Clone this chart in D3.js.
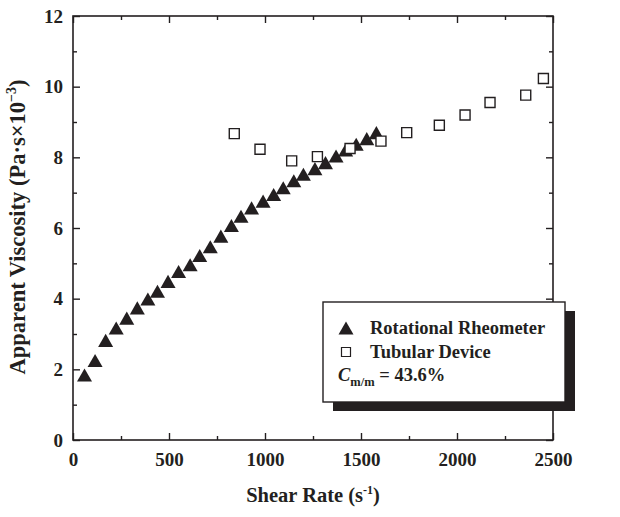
<!DOCTYPE html>
<html>
<head>
<meta charset="utf-8">
<script src="https://cdn.jsdelivr.net/npm/d3@7"></script>
<style>
  html, body { margin: 0; padding: 0; background: #fff; }
  svg { display: block; }
  text { font-family: "Liberation Serif", "Times New Roman", serif; font-weight: bold; fill: #231f20; }
</style>
</head>
<body>
<svg id="chart" width="620" height="517"></svg>
<script>
// ---- data ----
const rotShear = [60, 115, 170, 225, 280, 335, 390, 440, 495, 550, 610, 660, 715, 770, 825, 875, 930, 990, 1045, 1095, 1150, 1200, 1260, 1315, 1370, 1420, 1475, 1530, 1580];
const rotVisc  = [1.84, 2.25, 2.82, 3.17, 3.45, 3.74, 3.99, 4.21, 4.49, 4.77, 4.96, 5.22, 5.47, 5.77, 6.07, 6.33, 6.57, 6.76, 6.95, 7.14, 7.34, 7.52, 7.68, 7.85, 8.04, 8.21, 8.37, 8.53, 8.70];
const tubShear = [840, 974, 1139, 1273, 1443, 1604, 1738, 1908, 2042, 2172, 2358, 2450];
const tubVisc  = [8.67, 8.23, 7.90, 8.02, 8.25, 8.46, 8.70, 8.91, 9.20, 9.55, 9.76, 10.23];
const xMajor = [0, 500, 1000, 1500, 2000, 2500];
const xMinor = [250, 750, 1250, 1750, 2250];
const yMajor = [0, 2, 4, 6, 8, 10, 12];
const yMinor = [1, 3, 5, 7, 9, 11];

const ink = "#231f20";
const svg = d3.select("#chart");
const M = { left: 73, right: 553, top: 16, bottom: 440 };

const x = d3.scaleLinear().domain([0, 2500]).range([M.left, M.right]);
const y = d3.scaleLinear().domain([0, 12]).range([M.bottom, M.top]);

// frame
svg.append("rect")
  .attr("x", M.left).attr("y", M.top)
  .attr("width", M.right - M.left).attr("height", M.bottom - M.top)
  .attr("fill", "none").attr("stroke", ink).attr("stroke-width", 1.6);

function styleAxis(g) {
  g.select(".domain").remove();
  g.selectAll("line").attr("stroke", ink).attr("stroke-width", 1.4);
}
const fmt = d3.format("d");
// bottom
svg.append("g").attr("transform", `translate(0,${M.bottom})`)
  .call(d3.axisBottom(x).tickValues(xMajor).tickSize(-7).tickPadding(13).tickFormat(fmt))
  .call(styleAxis)
  .call(g => g.selectAll("text").attr("font-size", 19).attr("font-family", "Liberation Serif").attr("font-weight", "bold").attr("fill", ink).attr("dy", "0.71em"));
svg.append("g").attr("transform", `translate(0,${M.bottom})`)
  .call(d3.axisBottom(x).tickValues(xMinor).tickSize(-4).tickFormat(""))
  .call(styleAxis);
// top
svg.append("g").attr("transform", `translate(0,${M.top})`)
  .call(d3.axisTop(x).tickValues(xMajor).tickSize(-7).tickFormat(""))
  .call(styleAxis);
svg.append("g").attr("transform", `translate(0,${M.top})`)
  .call(d3.axisTop(x).tickValues(xMinor).tickSize(-4).tickFormat(""))
  .call(styleAxis);
// left
svg.append("g").attr("transform", `translate(${M.left},0)`)
  .call(d3.axisLeft(y).tickValues(yMajor).tickSize(-7).tickPadding(10).tickFormat(fmt))
  .call(styleAxis)
  .call(g => g.selectAll("text").attr("font-size", 19).attr("font-family", "Liberation Serif").attr("font-weight", "bold").attr("fill", ink));
svg.append("g").attr("transform", `translate(${M.left},0)`)
  .call(d3.axisLeft(y).tickValues(yMinor).tickSize(-4).tickFormat(""))
  .call(styleAxis);
// right
svg.append("g").attr("transform", `translate(${M.right},0)`)
  .call(d3.axisRight(y).tickValues(yMajor).tickSize(-7).tickFormat(""))
  .call(styleAxis);
svg.append("g").attr("transform", `translate(${M.right},0)`)
  .call(d3.axisRight(y).tickValues(yMinor).tickSize(-4).tickFormat(""))
  .call(styleAxis);

// axis titles
const xt = svg.append("text").attr("x", (M.left + M.right) / 2).attr("y", 502)
  .attr("text-anchor", "middle").attr("font-size", 20.5);
xt.append("tspan").text("Shear Rate (s");
xt.append("tspan").attr("font-size", 12).attr("dy", -8).text("-1");
xt.append("tspan").attr("dy", 8).text(")");

const yt = svg.append("text")
  .attr("transform", `translate(25,227) rotate(-90)`)
  .attr("text-anchor", "middle").attr("font-size", 22.5);
yt.append("tspan").text("Apparent Viscosity (Pa\u00b7s\u00d710");
yt.append("tspan").attr("font-size", 14).attr("dy", -9).text("\u22123");
yt.append("tspan").attr("dy", 9).text(")");

// symbols
const triType = {
  draw(ctx, size) {
    const w = Math.sqrt(size);
    const h = w * 0.87;
    ctx.moveTo(0, -h / 2);
    ctx.lineTo(w / 2, h / 2);
    ctx.lineTo(-w / 2, h / 2);
    ctx.closePath();
  }
};
const tri = d3.symbol().type(triType).size(15 * 15);
const sq = d3.symbol().type(d3.symbolSquare).size(10 * 10);

const rot = rotShear.map((s, i) => ({ s, v: rotVisc[i] }));
const tub = tubShear.map((s, i) => ({ s, v: tubVisc[i] }));

svg.append("g").selectAll("path").data(rot).join("path")
  .attr("d", tri)
  .attr("transform", d => `translate(${x(d.s)},${y(d.v)})`)
  .attr("fill", ink);

svg.append("g").selectAll("path").data(tub).join("path")
  .attr("d", sq)
  .attr("transform", d => `translate(${x(d.s)},${y(d.v)})`)
  .attr("fill", "#fff").attr("stroke", ink).attr("stroke-width", 1.4);

// legend
const L = { x: 323, y: 302, w: 242, h: 100 };
svg.append("rect").attr("x", L.x + 10).attr("y", L.y + 9).attr("width", L.w).attr("height", L.h).attr("fill", ink);
svg.append("rect").attr("x", L.x).attr("y", L.y).attr("width", L.w).attr("height", L.h)
  .attr("fill", "#fff").attr("stroke", ink).attr("stroke-width", 1.4);

svg.append("path").attr("d", tri).attr("transform", `translate(${L.x + 23},${L.y + 26})`).attr("fill", ink);
svg.append("text").attr("x", L.x + 47).attr("y", L.y + 32).attr("font-size", 18.5).text("Rotational Rheometer");
svg.append("path").attr("d", d3.symbol().type(d3.symbolSquare).size(9 * 9)).attr("transform", `translate(${L.x + 23},${L.y + 50})`)
  .attr("fill", "#fff").attr("stroke", ink).attr("stroke-width", 1.2);
svg.append("text").attr("x", L.x + 47).attr("y", L.y + 56).attr("font-size", 18.5).text("Tubular Device");
const ct = svg.append("text").attr("x", L.x + 15).attr("y", L.y + 79).attr("font-size", 18.5);
ct.append("tspan").attr("font-style", "italic").text("C");
ct.append("tspan").attr("font-size", 12.5).attr("dy", 5).text("m/m");
ct.append("tspan").attr("dy", -5).text(" = 43.6%");
</script>
</body>
</html>
